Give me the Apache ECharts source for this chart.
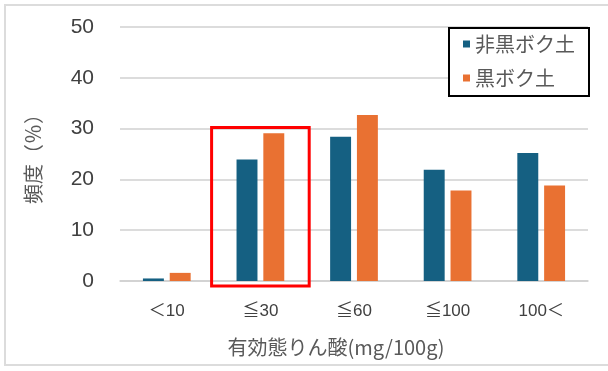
<!DOCTYPE html>
<html>
<head>
<meta charset="utf-8">
<script src="https://cdn.jsdelivr.net/npm/echarts@6/dist/echarts.min.js"></script>
<style>
  html, body { margin: 0; padding: 0; background: #ffffff; }
  #chart { width: 608px; height: 371px; }
</style>
</head>
<body>
<div id="chart"></div>
<script>
// ---- data ----
const categories = ['＜10', '≦30', '≦60', '≦100', '100＜'];
const seriesNames = ['非黒ボク土', '黒ボク土'];
const nonKuroboku = [0.5, 23.9, 28.4, 21.9, 25.2];
const kuroboku = [1.6, 29.1, 32.7, 17.8, 18.8];
const yTicks = [0, 10, 20, 30, 40, 50];
const xAxisTitle = '有効態りん酸(mg/100g)';
const yAxisTitle = '頻度（％）';
const highlightCategory = '≦30';
const highlightTop = 30.2;

const numFont = '"Liberation Sans", "Noto Sans CJK JP", sans-serif';
const cjkFont = '"Noto Sans CJK JP", sans-serif';

const chart = echarts.init(document.getElementById('chart'), null, { renderer: 'canvas' });

const option = {
  animation: false,
  backgroundColor: '#ffffff',
  grid: { left: 120, right: 20, top: 27, bottom: 90, containLabel: false },
  legend: {
    data: seriesNames,
    orient: 'vertical',
    right: 19,
    top: 28,
    padding: [6, 6, 8, 14],
    itemGap: 14,
    itemWidth: 7,
    itemHeight: 7,
    icon: 'rect',
    borderColor: '#000000',
    borderWidth: 2,
    backgroundColor: '#ffffff',
    textStyle: { fontFamily: cjkFont, fontSize: 20, color: '#595959', width: 108, lineHeight: 20 }
  },
  xAxis: {
    type: 'category',
    data: categories,
    name: xAxisTitle,
    nameLocation: 'middle',
    nameGap: 56,
    nameTextStyle: { fontFamily: cjkFont, fontSize: 20, color: '#595959', padding: [0, 36, 0, 0] },
    axisLine: { show: true, lineStyle: { color: '#d0d0d0', width: 1.5 } },
    axisTick: { show: false },
    axisLabel: { fontFamily: numFont, fontSize: 17, color: '#404040', margin: 22 }
  },
  yAxis: {
    type: 'value',
    min: yTicks[0],
    max: yTicks[yTicks.length - 1],
    interval: yTicks[1] - yTicks[0],
    name: yAxisTitle,
    nameLocation: 'middle',
    nameGap: 77,
    nameRotate: 90,
    nameTextStyle: { fontFamily: cjkFont, fontSize: 20, color: '#595959' },
    axisLine: { show: false },
    axisTick: { show: false },
    axisLabel: { fontFamily: numFont, fontSize: 21, color: '#404040', margin: 26 },
    splitLine: { lineStyle: { color: '#d0d0d0', width: 1.5 } }
  },
  series: [
    {
      name: seriesNames[0],
      type: 'bar',
      data: nonKuroboku,
      itemStyle: { color: '#156082' },
      barGap: '28%',
      barCategoryGap: '49%'
    },
    {
      name: seriesNames[1],
      type: 'bar',
      data: kuroboku,
      itemStyle: { color: '#E97132' },
      barGap: '28%',
      barCategoryGap: '49%'
    }
  ]
};
chart.setOption(option);

// highlight box around a category, positioned through the library's scales
const idx = categories.indexOf(highlightCategory);
const c1 = chart.convertToPixel({ gridIndex: 0 }, [idx, highlightTop]);
const c2 = chart.convertToPixel({ gridIndex: 0 }, [idx + 1, 0]);
const band = c2[0] - c1[0];
const x0 = c1[0] - band / 2 - 2;
const y0 = c1[1];
const y1 = c2[1] + 5;

chart.setOption({
  graphic: [
    {
      type: 'rect',
      shape: { x: 5, y: 5, width: 610, height: 360 },
      style: { fill: 'none', stroke: '#dcdcdc', lineWidth: 2 },
      silent: true,
      z: -1
    },
    {
      type: 'rect',
      shape: { x: x0, y: y0, width: band + 4, height: y1 - y0 },
      style: { fill: 'none', stroke: '#ff0000', lineWidth: 3 },
      silent: true,
      z: 100
    }
  ]
});
</script>
</body>
</html>
